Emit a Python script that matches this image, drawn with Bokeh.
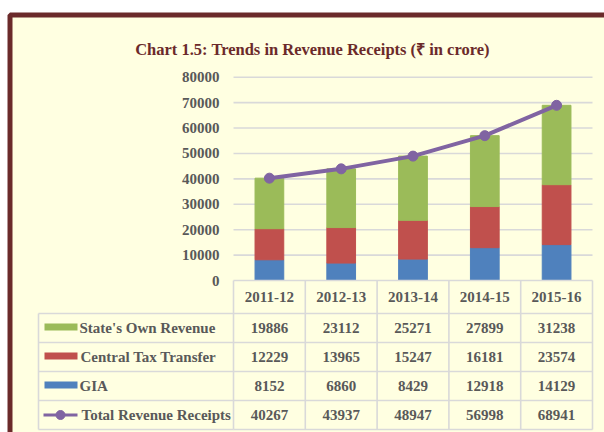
from bokeh.plotting import figure
from bokeh.models import Range1d, ColumnDataSource
from bokeh.embed import file_html
from bokeh.resources import INLINE
from bokeh.core.properties import value

# ---------------- data ----------------
years = ["2011-12", "2012-13", "2013-14", "2014-15", "2015-16"]
states_own = [19886, 23112, 25271, 27899, 31238]
central_tax = [12229, 13965, 15247, 16181, 23574]
gia = [8152, 6860, 8429, 12918, 14129]
total = [40267, 43937, 48947, 56998, 68941]
y_ticks = [0, 10000, 20000, 30000, 40000, 50000, 60000, 70000, 80000]
series_names = ["State's Own Revenue", "Central Tax Transfer", "GIA", "Total Revenue Receipts"]
title_text = "Chart 1.5: Trends in Revenue Receipts (\u20b9 in crore)"

# ---------------- styles / layout ----------------
GREEN, RED, BLUE, PURPLE = "#9BBB59", "#C0504D", "#4F81BD", "#8064A2"
TXT = "#595959"
GRID = "#D9D9D9"
BORDER = "#6B2A2A"
BG = "#FFFFE1"
FONT = value("Liberation Serif")

W, H = 604, 432
# plot area in canvas pixels
left_px, right_px = 233, 592
y0_px, ytop_px = 280, 76.7
ymax = y_ticks[-1]
n = len(years)

xs = n / (right_px - left_px)
x_range = Range1d(-left_px * xs, n + (W - right_px) * xs)
ysc = ymax / (y0_px - ytop_px)
y_range = Range1d(-(H - y0_px) * ysc, ymax + ytop_px * ysc)

p = figure(width=W, height=H, output_backend="svg", toolbar_location=None,
           x_axis_location=None, y_axis_location=None, min_border=0,
           x_range=x_range, y_range=y_range)
p.outline_line_color = None
p.background_fill_color = "white"
p.border_fill_color = "white"
p.xgrid.visible = False
p.ygrid.visible = False
p.extra_x_ranges = {"px": Range1d(0, W)}
p.extra_y_ranges = {"px": Range1d(H, 0)}

# outer box
p.quad(left=[9.5], right=[W + 20], top=[14.5], bottom=[H + 20],
       x_range_name="px", y_range_name="px",
       fill_color=BG, line_color=BORDER, line_width=5)

# title
p.text(x=[312], y=[49], text=[title_text], x_range_name="px", y_range_name="px",
       text_font=FONT, text_font_style="bold", text_font_size="16.5px",
       text_color=BORDER, text_align="center", text_baseline="alphabetic")

# gridlines
grid_ticks = [t for t in y_ticks if t > 0]
p.segment(x0=[0] * len(grid_ticks), x1=[n] * len(grid_ticks),
          y0=grid_ticks, y1=grid_ticks, line_color=GRID, line_width=1.6)

# y tick labels
p.text(x=[219] * len(y_ticks), y=y_ticks, text=[str(t) for t in y_ticks],
       x_range_name="px", text_font=FONT, text_font_style="bold",
       text_font_size="15px", text_color=TXT, text_align="right",
       text_baseline="middle")

# stacked bars
xpos = [i + 0.5 for i in range(n)]
src = ColumnDataSource(dict(x=xpos, gia=gia, central=central_tax, state=states_own))
p.vbar_stack(["gia", "central", "state"], x="x", width=0.4,
             color=[BLUE, RED, GREEN], source=src)

# total line
p.line(xpos, total, line_color=PURPLE, line_width=4)
p.scatter(xpos, total, size=10, fill_color=PURPLE, line_color=PURPLE)

# ---------------- data table ----------------
row_edges = [280, 313, 342, 371, 400, 429]  # canvas px, header row first
legend_left = 38
# horizontal lines over the category columns
p.segment(x0=[0] * len(row_edges), x1=[n] * len(row_edges),
          y0=row_edges, y1=row_edges, y_range_name="px",
          line_color=GRID, line_width=1.6)
# horizontal lines across the legend column
p.segment(x0=[legend_left] * (len(row_edges) - 1), x1=[left_px] * (len(row_edges) - 1),
          y0=row_edges[1:], y1=row_edges[1:], x_range_name="px", y_range_name="px",
          line_color=GRID, line_width=1.6)
# vertical column boundaries
p.segment(x0=list(range(n + 1)), x1=list(range(n + 1)),
          y0=[row_edges[0]] * (n + 1), y1=[row_edges[-1]] * (n + 1),
          y_range_name="px", line_color=GRID, line_width=1.6)
p.segment(x0=[legend_left], x1=[legend_left], y0=[row_edges[1]], y1=[row_edges[-1]],
          x_range_name="px", y_range_name="px", line_color=GRID, line_width=1.6)

row_centers = [(row_edges[i] + row_edges[i + 1]) / 2 for i in range(len(row_edges) - 1)]

# header
p.text(x=xpos, y=[row_centers[0]] * n, text=years, y_range_name="px",
       text_font=FONT, text_font_style="bold", text_font_size="15px",
       text_color=TXT, text_align="center", text_baseline="middle")

# values
for r, series in enumerate([states_own, central_tax, gia, total]):
    p.text(x=xpos, y=[row_centers[r + 1]] * n, text=[str(v) for v in series],
           y_range_name="px", text_font=FONT, text_font_style="bold",
           text_font_size="15px", text_color=TXT, text_align="center",
           text_baseline="middle")

# legend keys
leg_y = row_centers[1:]
p.rect(x=[60.5] * 3, y=[c - 1 for c in leg_y[:3]], width=33, height=7,
       x_range_name="px", y_range_name="px",
       fill_color=[GREEN, RED, BLUE], line_color=None)
p.line([43, 77], [leg_y[3], leg_y[3]], x_range_name="px", y_range_name="px",
       line_color=PURPLE, line_width=3)
p.scatter([60], [leg_y[3]], x_range_name="px", y_range_name="px", size=9,
          fill_color=PURPLE, line_color=PURPLE)
p.text(x=[79, 80, 79, 81], y=leg_y, text=series_names,
       x_range_name="px", y_range_name="px", text_font=FONT,
       text_font_style="bold", text_font_size="15px", text_color=TXT,
       text_align="left", text_baseline="middle")

open("out.html", "w").write(file_html(p, INLINE))
